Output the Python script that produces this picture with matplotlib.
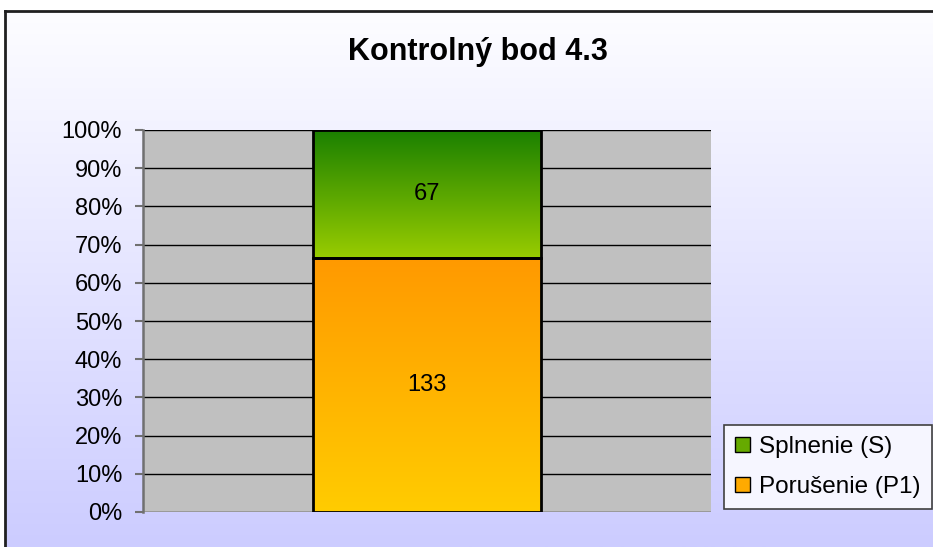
import matplotlib.pyplot as plt
import numpy as np
from matplotlib.colors import LinearSegmentedColormap
from matplotlib.patches import Patch

plt.rcParams['font.family'] = ['Liberation Sans', 'DejaVu Sans']

# data
title = 'Kontrolný bod 4.3'
series = ['Porušenie (P1)', 'Splnenie (S)']
counts = [133, 67]
yticks = [0, 10, 20, 30, 40, 50, 60, 70, 80, 90, 100]

# gradients (bottom colour, top colour)
grads = [('#FFCC00', '#FF9900'), ('#99CC00', '#1A8000')]
legend_colors = ['#FFAA00', '#66AA00']

total = sum(counts)
pcts = [c / total * 100 for c in counts]

fig = plt.figure(figsize=(9.33, 5.47), dpi=100)
fig.patch.set_facecolor('white')

# chart background gradient + border
bg = fig.add_axes([5 / 933, 0, 1 - 5 / 933, 1 - 11 / 547], zorder=-5)
bg_cmap = LinearSegmentedColormap.from_list('bg', ['#CCCCFF', '#FDFDFF'])
bg.imshow(np.linspace(0, 1, 256).reshape(-1, 1), aspect='auto', cmap=bg_cmap,
          origin='lower', extent=[0, 1, 0, 1])
bg.set_xlim(0, 1)
bg.set_ylim(0, 1)
bg.set_xticks([])
bg.set_yticks([])
for s in ['right', 'bottom']:
    bg.spines[s].set_visible(False)
for s in ['left', 'top']:
    bg.spines[s].set_color('#202020')
    bg.spines[s].set_linewidth(2)

ax = fig.add_axes([143 / 933, 1 - 512 / 547, (711 - 143) / 933, (512 - 130) / 547])
ax.set_facecolor('#C0C0C0')

bottom = 0
for i, (p, c) in enumerate(zip(pcts, counts)):
    bars = ax.bar(0, p, bottom=bottom, width=0.4, facecolor='none',
                  edgecolor='black', linewidth=2, zorder=4)
    rect = bars[0]
    cmap = LinearSegmentedColormap.from_list('g%d' % i, list(grads[i]))
    im = ax.imshow(np.linspace(0, 1, 256).reshape(-1, 1), aspect='auto', cmap=cmap,
                   origin='lower', extent=[-0.2, 0.2, bottom, bottom + p], zorder=3)
    im.set_clip_path(rect)
    ax.text(0, bottom + p / 2, str(c), ha='center', va='center', fontsize=17, zorder=5)
    bottom += p

ax.set_xlim(-0.5, 0.5)
ax.set_ylim(0, 100)
ax.set_yticks(yticks)
ax.set_yticklabels(['%d%%' % t for t in yticks], fontsize=17)
ax.set_xticks([])
ax.yaxis.grid(True, color='black', linewidth=1)
ax.set_axisbelow(True)
for s in ['top', 'right', 'bottom']:
    ax.spines[s].set_visible(False)
ax.spines['left'].set_color('#707070')
ax.spines['left'].set_linewidth(1.8)
ax.tick_params(axis='y', length=6, width=1.5, color='#707070', pad=9)

fig.text(478 / 933, 1 - 52 / 547, title, ha='center', va='center',
         fontsize=22, fontweight='bold')

handles = [Patch(facecolor=legend_colors[1], edgecolor='black', label=series[1]),
           Patch(facecolor=legend_colors[0], edgecolor='black', label=series[0])]
leg = fig.legend(handles=handles, loc='lower left',
                 bbox_to_anchor=(724 / 933, 1 - 509 / 547), bbox_transform=fig.transFigure,
                 fontsize=17.5, fancybox=False, framealpha=1, edgecolor='#404040',
                 facecolor='#F6F6FF', handlelength=0.6, handleheight=0.6,
                 handletextpad=0.4, borderpad=0.45, labelspacing=0.75, borderaxespad=0)
leg.get_frame().set_linewidth(1.2)

fig.savefig('out.png', dpi=100)
